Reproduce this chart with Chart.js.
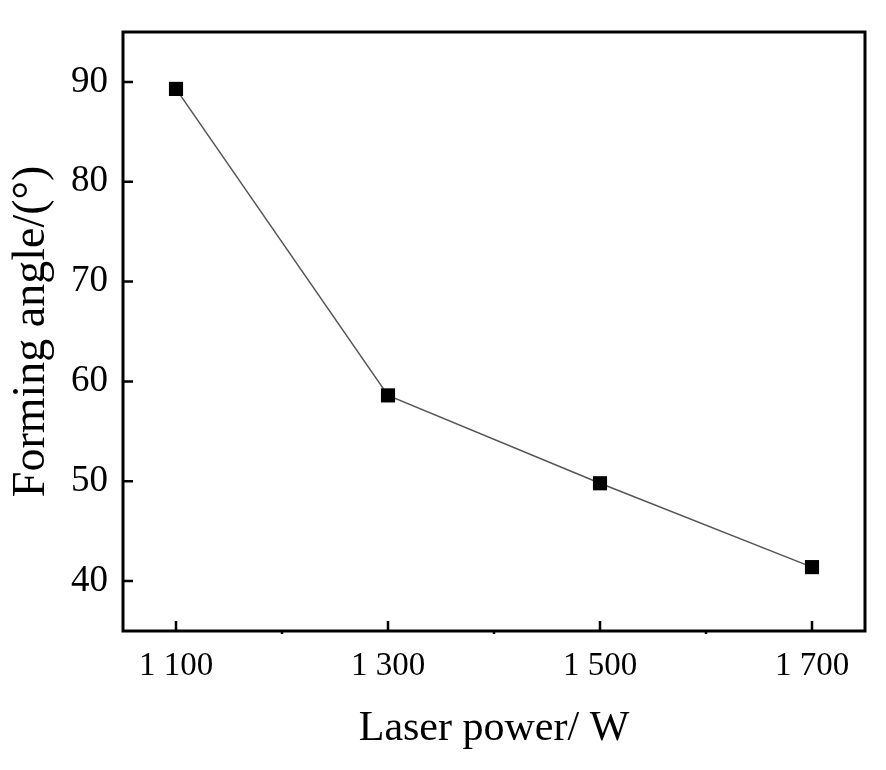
<!DOCTYPE html>
<html>
<head>
<meta charset="utf-8">
<script src="https://cdn.jsdelivr.net/npm/chart.js@4/dist/chart.umd.min.js"></script>
<style>
  html, body { margin: 0; padding: 0; background: #fff; }
  #wrap { width: 886px; height: 770px; }
</style>
</head>
<body>
<div id="wrap"><canvas id="chart" width="886" height="770"></canvas></div>
<script>
// laser power (W) vs forming angle (deg)
const laserPower = [1100, 1300, 1500, 1700];
const formingAngle = [89.3, 58.6, 49.8, 41.4];
const xTicks = [1100, 1300, 1500, 1700];
const xMinorTicks = [1200, 1400, 1600];
const yTicks = [40, 50, 60, 70, 80, 90];

const serif = '"Liberation Serif", "Times New Roman", serif';

// frame + inward ticks, origin style
const framePlugin = {
    id: 'frame',
    beforeDatasetsDraw(chart) {
        const { ctx, chartArea: a, scales } = chart;
        ctx.save();
        ctx.strokeStyle = '#000';
        ctx.lineWidth = 3;
        ctx.strokeRect(a.left, a.top, a.right - a.left, a.bottom - a.top);
        ctx.lineWidth = 2.5;
        ctx.beginPath();
        for (const v of xTicks) {
            const x = scales.x.getPixelForValue(v);
            ctx.moveTo(x, a.bottom);
            ctx.lineTo(x, a.bottom - 10);
        }
        for (const v of xMinorTicks) {
            const x = scales.x.getPixelForValue(v);
            ctx.moveTo(x, a.bottom);
            ctx.lineTo(x, a.bottom + 3);
        }
        for (const v of yTicks) {
            const y = scales.y.getPixelForValue(v);
            ctx.moveTo(a.left, y);
            ctx.lineTo(a.left + 10, y);
        }
        ctx.stroke();
        ctx.restore();
    }
};

const data = laserPower.map((p, i) => ({ x: p, y: formingAngle[i] }));

new Chart(document.getElementById('chart'), {
    type: 'line',
    data: {
        datasets: [{
            data: data,
            borderColor: '#555',
            borderWidth: 1.5,
            pointStyle: 'rect',
            pointRadius: 10,
            pointBackgroundColor: '#000',
            pointBorderWidth: 0,
            tension: 0
        }]
    },
    options: {
        responsive: false,
        animation: false,
        layout: { padding: { top: 32, right: 21, left: 0, bottom: 0 } },
        plugins: { legend: { display: false }, tooltip: { enabled: false } },
        scales: {
            x: {
                type: 'linear',
                min: 1050,
                max: 1750,
                border: { display: false },
                grid: { display: false, drawTicks: false },
                afterBuildTicks: (s) => { s.ticks = xTicks.map(v => ({ value: v })); },
                afterFit: (s) => { s.height = 139; s.paddingLeft = 0; s.paddingRight = 0; },
                ticks: {
                    color: '#000',
                    padding: 16,
                    maxRotation: 0,
                    font: { family: serif, size: 33 },
                    callback: (v) => String(v).replace(/^(\d)(\d{3})$/, '$1 $2')
                },
                title: {
                    display: true,
                    text: 'Laser power/ W',
                    color: '#000',
                    font: { family: serif, size: 42 },
                    padding: { top: 0, bottom: 16 }
                }
            },
            y: {
                min: 35,
                max: 95,
                border: { display: false },
                grid: { display: false, drawTicks: false },
                afterBuildTicks: (s) => { s.ticks = yTicks.map(v => ({ value: v })); },
                afterFit: (s) => { s.width = 123; s.paddingTop = 0; s.paddingBottom = 0; },
                ticks: {
                    color: '#000',
                    padding: 15,
                    font: { family: serif, size: 37 }
                },
                title: {
                    display: true,
                    text: 'Forming angle/(°)',
                    color: '#000',
                    font: { family: serif, size: 46 },
                    padding: { top: 4, bottom: 0 }
                }
            }
        }
    },
    plugins: [framePlugin]
});
</script>
</body>
</html>
